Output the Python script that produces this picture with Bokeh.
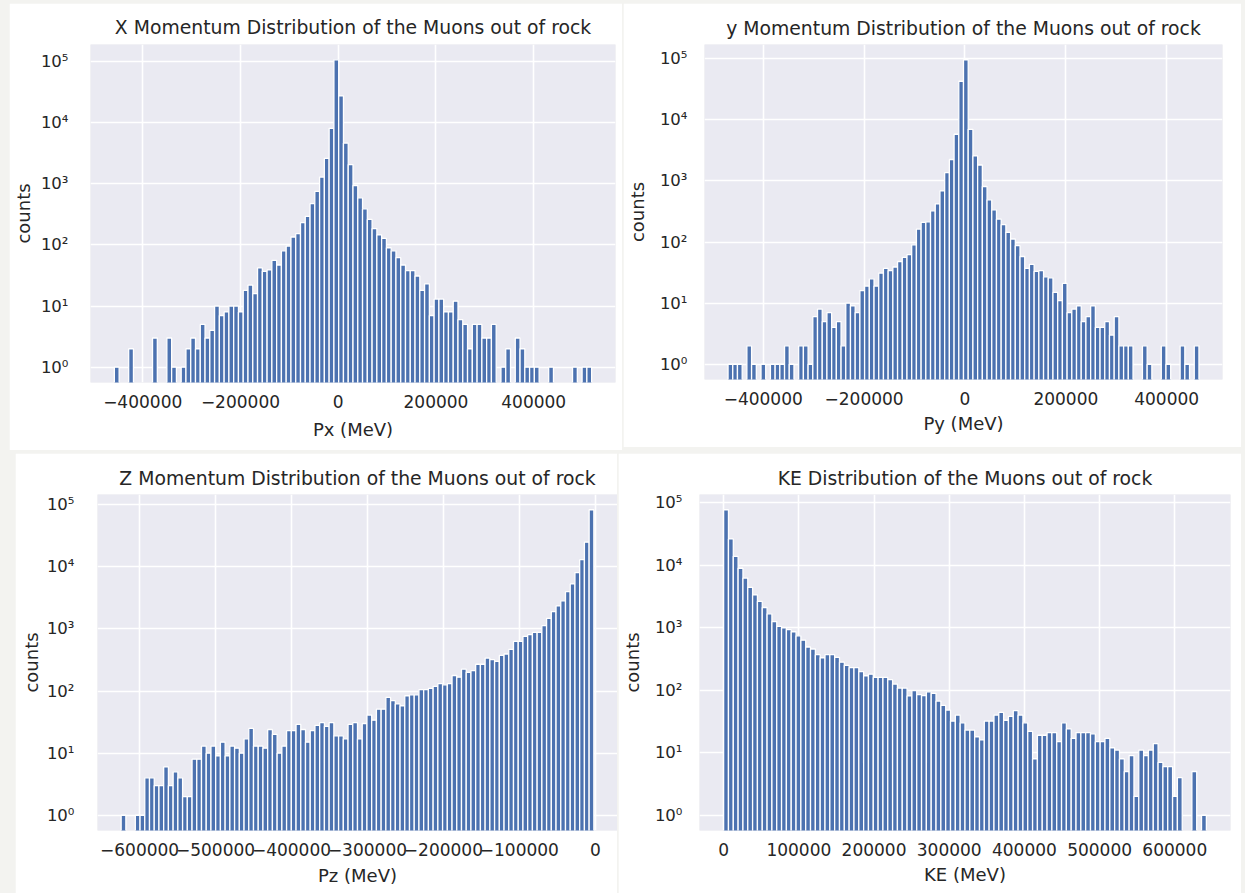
import numpy as np
from bokeh.plotting import figure
from bokeh.layouts import column, row
from bokeh.models import FixedTicker, CustomJSTickFormatter, Range1d, ColumnDataSource
from bokeh.embed import file_html
from bokeh.resources import INLINE

# ---------------- data (100 bins per histogram, counts) -------------
px_range = (-457970, 518530)
py_range = (-469810, 463990)
pz_range = (-624300, -1900)
ke_range = (0, 642000)

px_counts = [1, 0, 0, 2, 0, 0, 0, 0, 3, 0,
             0, 3, 1, 0, 1, 2, 3, 2, 5, 3,
             4, 10, 7, 8, 10, 10, 8, 18, 22, 16,
             42, 37, 39, 56, 47, 80, 96, 135, 153, 232,
             293, 473, 755, 1290, 2615, 8100, 107000, 27500, 4650, 2065,
             940, 590, 390, 262, 185, 146, 128, 90, 80, 62,
             47, 38, 38, 31, 18, 23, 7, 13, 13, 8,
             8, 12, 6, 5, 2, 5, 5, 3, 3, 5,
             0, 1, 2, 0, 3, 2, 1, 1, 1, 0,
             0, 1, 0, 0, 0, 0, 1, 0, 1, 1]

py_counts = [1, 1, 1, 0, 2, 1, 0, 1, 0, 1,
             1, 1, 2, 1, 0, 2, 2, 1, 6, 8,
             5, 7, 4, 5, 2, 10, 9, 7, 16, 19,
             25, 19, 31, 37, 34, 39, 48, 56, 62, 90,
             163, 209, 214, 324, 420, 685, 1370, 2240, 5800, 42700,
             96000, 6970, 2560, 1820, 810, 490, 336, 237, 192, 144,
             112, 87, 58, 37, 43, 33, 34, 27, 26, 15,
             11, 21, 7, 8, 9, 5, 6, 9, 4, 4,
             5, 3, 6, 2, 2, 2, 0, 0, 2, 1,
             0, 0, 2, 1, 0, 0, 2, 1, 0, 2]

pz_counts = [1, 0, 0, 1, 1, 4, 4, 3, 3, 6,
             3, 5, 4, 2, 2, 8, 8, 13, 10, 13,
             9, 15, 9, 13, 12, 10, 17, 25, 13, 13,
             12, 24, 20, 10, 13, 23, 23, 29, 24, 15,
             23, 28, 31, 27, 31, 19, 19, 17, 29, 31,
             17, 30, 41, 34, 51, 51, 79, 70, 62, 58,
             84, 87, 87, 105, 105, 110, 119, 132, 126, 132,
             178, 167, 225, 200, 213, 270, 270, 340, 320, 300,
             375, 395, 470, 630, 630, 760, 810, 880, 880, 1130,
             1480, 1900, 2350, 2840, 4000, 5300, 8100, 13100, 25000, 83000]

ke_counts = [76700, 26200, 13800, 8900, 6200, 4400, 3330, 2630, 2100, 1660,
             1250, 1050, 990, 930, 860, 740, 630, 490, 455, 370,
             330, 370, 370, 335, 280, 250, 229, 229, 198, 170,
             180, 160, 160, 160, 147, 125, 108, 108, 81, 98,
             85, 82, 94, 89, 67, 57, 48, 32, 40, 30,
             23, 23, 18, 16, 32, 32, 40, 44, 33, 38,
             47, 40, 30, 22, 8, 19, 19, 21, 21, 15,
             30, 24, 17, 21, 21, 21, 20, 15, 15, 17,
             12, 11, 8, 5, 9, 2, 11, 9, 11, 14,
             7, 6, 6, 2, 4, 0, 0, 5, 0, 1]

titles = ["X Momentum Distribution of the Muons out of rock",
          "y Momentum Distribution of the Muons out of rock",
          "Z Momentum Distribution of the Muons out of rock",
          "KE Distribution of the Muons out of rock"]
xlabels = ["Px (MeV)", "Py (MeV)", "Pz (MeV)", "KE (MeV)"]
ylabel = "counts"

xticks_px = [-400000, -200000, 0, 200000, 400000]
xticks_py = [-400000, -200000, 0, 200000, 400000]
xticks_pz = [-600000, -500000, -400000, -300000, -200000, -100000, 0]
xticks_ke = [0, 100000, 200000, 300000, 400000, 500000, 600000]
yticks = [1, 10, 100, 1000, 10000, 100000]

# ---------------- styling ----------------
FONT = "DejaVu Sans"
TXT = "#262626"
BAR = "#4C72B0"
PANEL_BG = "#EAEAF2"
PAGE_BG = "#f3f3f0"

YFMT = """
const s = {"0":"\u2070","1":"\u00b9","2":"\u00b2","3":"\u00b3","4":"\u2074",
           "5":"\u2075","6":"\u2076","7":"\u2077","8":"\u2078","9":"\u2079","-":"\u207b"};
const e = Math.round(Math.log10(tick)).toString();
let out = "10";
for (const c of e) { out += s[c]; }
return out;
"""
XFMT = "return tick.toFixed(0).replace('-', '\u2212');"


def make_panel(counts, rng, title, xlabel, xticks, w, h, borders, ygap,
               ylab_standoff, xlab_standoff, title_standoff, margin):
    counts = np.asarray(counts, dtype=float)
    lo, hi = rng
    edges = np.linspace(lo, hi, len(counts) + 1)
    span = hi - lo
    lmax = np.log10(counts.max())
    y0 = 10 ** (-0.05 * lmax)
    y1 = 10 ** (1.05 * lmax)
    p = figure(width=w, height=h, y_axis_type="log", output_backend="svg",
               toolbar_location=None,
               x_range=Range1d(lo - 0.05 * span, hi + 0.05 * span),
               y_range=Range1d(y0, y1),
               min_border_left=borders[0], min_border_right=borders[1],
               min_border_top=borders[2], min_border_bottom=borders[3],
               background_fill_color=PANEL_BG, border_fill_color="white",
               outline_line_color=None)
    nz = counts > 0
    src = ColumnDataSource(dict(left=edges[:-1][nz], right=edges[1:][nz],
                                top=counts[nz],
                                bottom=np.full(int(nz.sum()), y0 * 0.3)))
    p.quad(left="left", right="right", top="top", bottom="bottom", source=src,
           fill_color=BAR, line_color="white", line_width=1.3)

    p.title.text = title
    p.title.align = "center"
    p.title.text_font = FONT
    p.title.text_font_size = "18.8px"
    p.title.text_font_style = "normal"
    p.title.text_color = TXT
    p.title.standoff = title_standoff
    p.title.offset = 0

    xt = FixedTicker(ticks=xticks)
    yt = FixedTicker(ticks=yticks)
    p.xaxis.ticker = xt
    p.yaxis.ticker = yt
    p.xgrid.ticker = xt
    p.ygrid.ticker = yt
    p.xaxis.formatter = CustomJSTickFormatter(code=XFMT)
    p.yaxis.formatter = CustomJSTickFormatter(code=YFMT)
    p.xaxis.axis_label = xlabel
    p.yaxis.axis_label = ylabel
    for ax in (p.xaxis, p.yaxis):
        ax.axis_line_color = None
        ax.major_tick_line_color = None
        ax.minor_tick_line_color = None
        ax.major_tick_out = 0
        ax.major_tick_in = 0
        ax.minor_tick_out = 0
        ax.minor_tick_in = 0
        ax.major_label_text_font = FONT
        ax.major_label_text_color = TXT
        ax.axis_label_text_font = FONT
        ax.axis_label_text_font_size = "18px"
        ax.axis_label_text_font_style = "normal"
        ax.axis_label_text_color = TXT
    p.xaxis.major_label_text_font_size = "17px"
    p.yaxis.major_label_text_font_size = "16.5px"
    p.xaxis.major_label_standoff = 12
    p.xaxis.axis_label_standoff = xlab_standoff
    p.yaxis.major_label_standoff = ygap
    p.yaxis.axis_label_standoff = ylab_standoff
    for g in (p.xgrid, p.ygrid):
        g.grid_line_color = "white"
        g.grid_line_width = 1.6
    p.margin = margin
    return p


p1 = make_panel(px_counts, px_range, titles[0], xlabels[0], xticks_px,
                613, 447, (81, 7, 41, 67), 22, 4, 8, 13, (3, 1, 3, 9))
p2 = make_panel(py_counts, py_range, titles[1], xlabels[1], xticks_py,
                618, 444, (81, 19, 41, 68), 17, 9, 5, 12, (3, 4, 6, 0))
p3 = make_panel(pz_counts, pz_range, titles[2], xlabels[2], xticks_pz,
                602, 440, (82, 0, 41, 63), 23, 2, 6, 12, (0, 1, 0, 15))
p4 = make_panel(ke_counts, ke_range, titles[3], xlabels[3], xticks_ke,
                623, 440, (81, 11, 40, 58), 17, 9, 5, 12, (0, 4, 0, 0))

layout = column(row(p1, p2), row(p3, p4), styles={"background-color": PAGE_BG})

open("out.html", "w").write(file_html(layout, INLINE))
